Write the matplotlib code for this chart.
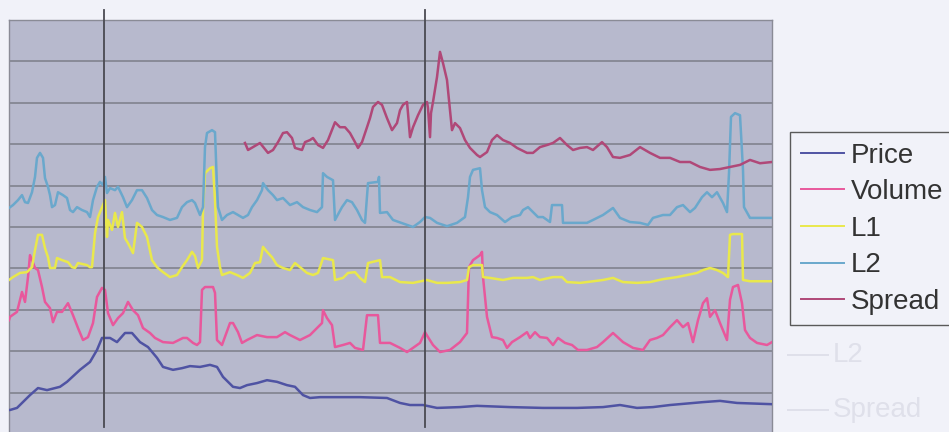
import matplotlib.pyplot as plt

# tick-by-tick series, time in sample steps, values on a common 0-100 scale
price_t = [0, 1, 8, 21, 29, 38, 51, 58, 71, 81, 88, 93, 101, 108, 116, 123, 131, 139, 148, 154,
           164, 173, 181, 191, 201, 208, 214, 224, 231, 238, 248, 258, 268, 278, 286, 294, 301,
           311, 328, 351, 378, 391, 401, 414, 428, 451, 468, 501, 534, 568, 594, 611, 628, 644,
           661, 694, 711, 728, 763]
price_v = [5.8, 5.8, 6.3, 9.4, 11.1, 10.6, 11.4, 12.6, 15.5, 17.4, 20.3, 23.2, 23.2, 22.2, 24.4,
           24.4, 22.2, 21.0, 18.4, 16.2, 15.5, 15.9, 16.4, 16.2, 16.7, 16.2, 13.8, 11.4, 11.1,
           11.8, 12.3, 13.0, 12.6, 11.8, 11.4, 9.4, 8.7, 8.9, 8.9, 8.9, 8.7, 7.5, 7.0, 7.0, 6.3,
           6.5, 6.8, 6.5, 6.3, 6.3, 6.5, 7.0, 6.3, 6.5, 7.0, 7.7, 8.0, 7.5, 7.2]

volume_t = [0, 1, 8, 11, 13, 16, 19, 21, 23, 26, 29, 33, 36, 41, 44, 48, 53, 59, 64, 69, 74, 79,
            84, 88, 93, 96, 99, 104, 109, 114, 119, 124, 129, 134, 141, 146, 154, 164, 174, 178,
            184, 188, 191, 193, 196, 204, 206, 208, 213, 221, 224, 229, 233, 238, 248, 258, 268,
            276, 281, 291, 301, 308, 313, 314, 318, 323, 326, 334, 341, 346, 354, 358, 369, 371,
            381, 391, 398, 404, 411, 416, 419, 424, 431, 441, 451, 458, 460, 464, 471, 473, 474,
            478, 483, 488, 494, 498, 503, 511, 518, 521, 526, 531, 538, 544, 549, 556, 563, 569,
            578, 588, 594, 604, 614, 624, 634, 641, 648, 654, 661, 668, 674, 679, 684, 689, 694,
            698, 701, 706, 711, 718, 721, 724, 729, 733, 736, 741, 748, 758, 763]
volume_v = [27.5, 28.3, 29.5, 32.4, 34.3, 31.9, 37.9, 43.2, 42.0, 40.1, 39.6, 35.5, 31.9, 30.4,
            27.0, 29.5, 29.5, 31.6, 28.7, 25.6, 22.7, 23.4, 26.8, 33.1, 35.3, 34.8, 29.2, 26.3,
            28.0, 29.2, 31.9, 29.9, 28.7, 25.6, 24.4, 23.2, 22.2, 22.0, 23.2, 23.2, 22.0, 21.5,
            22.2, 34.8, 35.5, 35.5, 34.1, 22.7, 21.5, 26.8, 26.8, 24.6, 22.0, 22.7, 23.9, 23.4,
            23.4, 24.6, 23.9, 22.7, 23.9, 25.6, 26.8, 29.9, 28.0, 26.3, 21.0, 21.5, 22.0, 20.8,
            20.3, 28.7, 28.7, 22.0, 22.0, 20.8, 19.8, 20.8, 22.0, 24.6, 23.4, 21.5, 19.8, 20.3,
            22.2, 24.4, 40.3, 42.0, 43.2, 44.0, 37.9, 28.3, 23.4, 23.2, 22.7, 20.8, 22.2, 23.4,
            24.6, 23.2, 24.6, 23.4, 23.2, 21.5, 23.2, 22.0, 21.5, 20.3, 20.3, 21.0, 22.2, 24.4,
            22.2, 20.8, 20.3, 22.7, 23.2, 23.9, 25.8, 27.5, 25.8, 26.8, 22.2, 27.5, 31.6, 32.8,
            28.3, 29.9, 26.8, 22.7, 32.4, 35.5, 36.0, 31.6, 25.1, 23.2, 22.0, 21.5, 22.2]

l1_t = [0, 4, 11, 18, 23, 26, 29, 33, 36, 39, 41, 46, 48, 53, 59, 63, 66, 69, 78, 81, 83, 86, 89,
        96, 98, 99, 103, 106, 109, 113, 116, 119, 124, 128, 133, 138, 143, 148, 154, 161, 168,
        173, 178, 183, 186, 189, 193, 194, 196, 201, 204, 206, 208, 211, 213, 221, 228, 234, 241,
        246, 251, 254, 258, 263, 268, 274, 281, 286, 291, 298, 304, 309, 314, 324, 326, 334, 339,
        346, 351, 356, 359, 371, 373, 381, 391, 404, 418, 428, 438, 451, 458, 460, 464, 473, 474,
        481, 494, 504, 518, 524, 531, 544, 553, 558, 571, 578, 594, 604, 614, 628, 641, 654, 668,
        678, 688, 694, 701, 708, 714, 719, 721, 724, 733, 734, 741, 763]
l1_v = [37.2, 37.9, 38.9, 39.1, 40.3, 44.4, 48.1, 48.1, 44.9, 42.7, 40.1, 40.1, 42.5, 42.0, 41.5,
        40.3, 40.1, 41.3, 40.8, 40.3, 40.3, 48.5, 52.4, 56.5, 47.6, 51.7, 49.3, 53.4, 50.0, 53.6,
        47.3, 46.1, 43.7, 51.0, 50.0, 47.6, 42.0, 40.3, 39.1, 37.9, 38.4, 40.3, 42.0, 44.0, 43.0,
        40.1, 42.0, 54.1, 63.0, 64.2, 64.5, 56.5, 45.2, 40.3, 38.4, 39.1, 38.4, 37.7, 38.9, 41.3,
        41.5, 45.2, 44.0, 42.7, 40.8, 40.1, 39.6, 41.3, 40.3, 38.9, 38.4, 38.9, 42.5, 42.0, 37.2,
        37.7, 38.9, 39.1, 37.7, 36.7, 41.3, 42.0, 37.9, 37.9, 36.7, 36.5, 37.2, 36.5, 36.5, 36.7,
        37.2, 40.3, 40.8, 40.8, 37.9, 37.7, 37.2, 37.7, 37.7, 37.9, 37.2, 37.9, 37.9, 36.7, 36.5,
        36.7, 37.2, 37.7, 36.7, 36.5, 36.7, 37.4, 37.9, 38.4, 38.9, 39.6, 40.1, 39.6, 38.9, 37.9,
        48.1, 48.3, 48.3, 37.2, 36.9, 36.9]

l2_t = [0, 4, 9, 13, 16, 19, 23, 26, 28, 31, 34, 36, 39, 41, 43, 46, 49, 54, 58, 61, 64, 68, 73,
        78, 81, 84, 88, 91, 94, 96, 98, 101, 106, 109, 114, 118, 123, 128, 133, 138, 143, 148,
        154, 161, 168, 173, 178, 183, 186, 191, 194, 196, 198, 203, 206, 208, 209, 213, 218, 224,
        229, 234, 239, 243, 248, 253, 254, 259, 264, 268, 274, 281, 288, 294, 301, 308, 313, 314,
        318, 324, 326, 333, 338, 343, 348, 353, 356, 359, 369, 370, 371, 378, 384, 398, 404, 411,
        416, 421, 428, 438, 448, 456, 459, 461, 464, 471, 473, 476, 481, 488, 496, 503, 511, 514,
        519, 524, 529, 534, 541, 543, 553, 554, 578, 584, 594, 604, 611, 621, 631, 639, 644, 654,
        661, 668, 674, 681, 686, 693, 698, 703, 708, 714, 718, 720, 722, 726, 731, 734, 735, 741,
        751, 763]
l2_v = [54.6, 55.3, 56.5, 57.7, 56.0, 55.8, 58.4, 62.1, 66.7, 67.9, 66.7, 61.8, 59.7, 57.7, 54.8,
        55.3, 58.4, 57.7, 57.0, 54.1, 53.6, 54.8, 54.1, 53.6, 52.4, 56.5, 59.7, 60.9, 60.1, 62.1,
        58.2, 59.4, 58.9, 59.7, 57.2, 54.8, 56.5, 58.9, 58.9, 57.0, 54.1, 52.9, 52.4, 51.7, 52.2,
        54.8, 56.0, 56.5, 55.8, 52.9, 54.8, 69.3, 72.7, 73.4, 72.9, 59.7, 54.8, 51.7, 52.9, 53.6,
        52.9, 52.2, 52.9, 54.8, 56.5, 58.9, 60.6, 58.9, 57.7, 56.5, 57.0, 55.3, 56.0, 54.8, 54.1,
        53.6, 54.8, 63.0, 62.1, 61.3, 51.7, 54.8, 56.5, 56.0, 54.1, 51.7, 51.0, 60.6, 60.9, 62.1,
        53.4, 53.6, 51.7, 50.5, 50.0, 51.2, 52.4, 52.2, 51.0, 50.2, 51.0, 52.4, 57.2, 62.1, 63.8,
        64.2, 58.9, 54.8, 53.6, 52.9, 51.2, 52.4, 52.9, 54.1, 54.8, 53.6, 52.4, 52.4, 51.2, 55.3,
        55.3, 51.0, 51.0, 51.7, 52.9, 54.6, 52.2, 51.2, 51.0, 50.5, 52.2, 52.9, 52.9, 54.8, 55.3,
        53.6, 54.6, 57.2, 58.4, 57.2, 58.4, 55.8, 53.6, 63.0, 76.6, 77.5, 77.0, 63.8, 54.8, 52.2,
        52.2, 52.2]

spread_t = [236, 239, 244, 251, 259, 264, 269, 274, 278, 283, 286, 293, 296, 301, 304, 309, 314,
            319, 326, 331, 336, 341, 346, 349, 353, 358, 361, 364, 369, 373, 378, 383, 388, 391,
            394, 398, 399, 401, 404, 409, 414, 418, 419, 421, 422, 424, 428, 431, 434, 438, 441,
            443, 446, 451, 456, 461, 468, 471, 478, 483, 488, 494, 501, 508, 518, 524, 531, 538,
            544, 551, 558, 564, 571, 578, 584, 593, 598, 604, 611, 621, 631, 641, 651, 661, 671,
            681, 691, 701, 711, 721, 731, 741, 751, 763]
spread_v = [70.3, 68.6, 69.3, 70.3, 67.9, 68.6, 70.5, 72.7, 72.9, 71.5, 69.1, 68.6, 70.5, 71.0,
            71.5, 69.8, 69.1, 71.0, 75.3, 74.1, 74.1, 72.7, 70.5, 69.1, 70.5, 74.1, 76.3, 79.0,
            80.2, 79.5, 76.3, 73.4, 75.1, 78.2, 79.5, 80.2, 77.5, 71.7, 74.1, 77.0, 79.5, 80.2,
            78.7, 71.7, 77.5, 80.2, 86.2, 92.3, 89.6, 85.5, 78.2, 73.4, 75.1, 73.9, 71.0, 69.1,
            67.4, 66.9, 68.1, 71.0, 72.2, 71.0, 70.3, 69.1, 67.9, 67.9, 69.3, 69.8, 70.3, 71.5,
            69.8, 68.6, 69.1, 69.3, 68.6, 70.5, 69.3, 66.9, 66.7, 67.4, 69.3, 67.9, 66.7, 66.7,
            65.7, 65.7, 64.5, 63.8, 64.0, 64.5, 65.0, 66.2, 65.4, 65.7]

# two event markers on the time axis
event_t = [95, 416]

series_names = ['Price', 'Volume', 'L1', 'L2', 'Spread']

page_bg = '#f1f2f9'
plot_bg = '#b7b9cd'
colors = ['#4f53a3', '#e8589c', '#e9e84c', '#6aa8cc', '#b04878']

plt.rcParams['font.family'] = ['Liberation Sans', 'DejaVu Sans']

fig = plt.figure(figsize=(9.49, 4.32), dpi=100, facecolor=page_bg)
ax = fig.add_axes([9 / 949, -2 / 432, 763 / 949, 414 / 432])
ax.set_facecolor(plot_bg)

series = [(price_t, price_v), (volume_t, volume_v), (l1_t, l1_v), (l2_t, l2_v), (spread_t, spread_v)]
for (t, v), name, c in zip(series, series_names, colors):
    ax.plot(t, v, color=c, lw=1.8, label=name, solid_joinstyle='round', zorder=3)

for t in event_t:
    ax.plot([t, t], [1.7, 102.4], color='#4a4a52', lw=1.3, clip_on=False, zorder=4)

ax.set_xlim(0, 763)
ax.set_ylim(0, 100)
ax.set_yticks(range(0, 101, 10))
ax.set_xticks([])
ax.grid(axis='y', color='#7c7d88', lw=1.1)
ax.tick_params(left=False, labelleft=False)
for s in ax.spines.values():
    s.set_color('#8a8b96')
    s.set_linewidth(1.0)

# faint show-through of the legend printed on the other side of the sheet
ghost = '#dfe0ea'
for label, y in [('L2', 355), ('Spread', 410)]:
    fig.text(833 / 949, 1 - y / 432, label, color=ghost, fontsize=20, va='center', zorder=0)
    fig.add_artist(plt.Line2D([788 / 949, 828 / 949], [1 - y / 432] * 2, color=ghost, lw=1.4,
                              zorder=0))

leg = fig.legend(loc='upper left', bbox_to_anchor=(790 / 949, 1 - 132 / 432),
                 fontsize=20, handlelength=1.55, handletextpad=0.25, labelspacing=0.38,
                 borderpad=0.38, borderaxespad=0, fancybox=False, frameon=True, framealpha=1)
leg.get_frame().set_edgecolor('#5a5a5a')
leg.get_frame().set_facecolor(page_bg)
leg.get_frame().set_linewidth(1.0)
leg.set_zorder(5)
for line in leg.get_lines():
    line.set_linewidth(1.4)
for txt in leg.get_texts():
    txt.set_color('#333333')

fig.savefig('out.png', dpi=100, facecolor=page_bg)
